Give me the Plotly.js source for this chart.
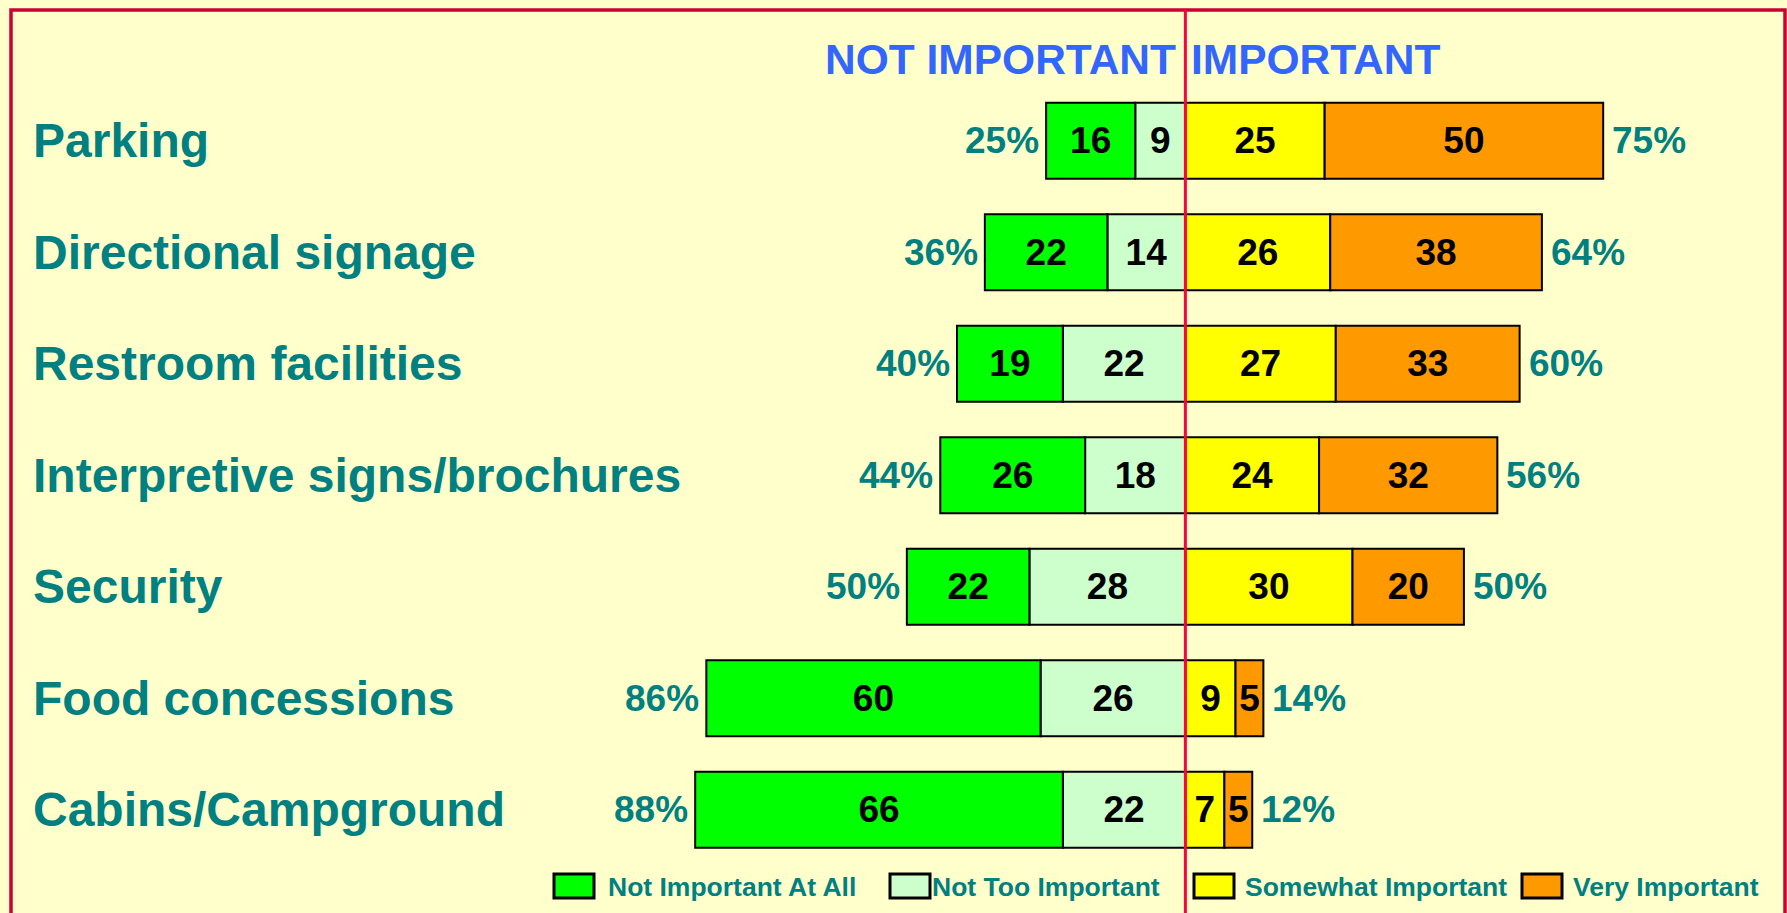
<!DOCTYPE html>
<html>
<head>
<meta charset="utf-8">
<script src="https://cdn.plot.ly/plotly-3.0.1.min.js"></script>
<style>
  html, body { margin: 0; padding: 0; background: #FFFFCC; }
  #chart { width: 1787px; height: 913px; }
</style>
</head>
<body>
<div id="chart"></div>
<script>
// Importance ratings per facility (percent of respondents)
const categories = [
  "Parking",
  "Directional signage",
  "Restroom facilities",
  "Interpretive signs/brochures",
  "Security",
  "Food concessions",
  "Cabins/Campground"
];
const notImportantAtAll = [16, 22, 19, 26, 22, 60, 66];
const notTooImportant   = [9, 14, 22, 18, 28, 26, 22];
const somewhatImportant = [25, 26, 27, 24, 30, 9, 7];
const veryImportant     = [50, 38, 33, 32, 20, 5, 5];
// Reported group totals
const notImportantTotal = [25, 36, 40, 44, 50, 86, 88];
const importantTotal    = [75, 64, 60, 56, 50, 14, 12];

const seriesNames = ["Not Important At All", "Not Too Important", "Somewhat Important", "Very Important"];
const headerLeft = "NOT IMPORTANT";
const headerRight = "IMPORTANT";

const COLORS = {
  notAtAll: "#00FF00",
  notToo: "#CCFFCC",
  somewhat: "#FFFF00",
  very: "#FF9900"
};
const TEAL = "#008080";
const FONT = "Liberation Sans, Arial, Helvetica, sans-serif";
const W = 1787, H = 913;
const px = v => v / W;          // horizontal pixel -> paper
const py = v => 1 - v / H;      // vertical pixel -> paper

function barTrace(values, sign, name, color) {
  return {
    type: "bar",
    orientation: "h",
    name: name,
    y: categories,
    x: values.map(v => sign * v),
    text: values.map(v => "<b>" + v + "</b>"),
    textposition: "inside",
    insidetextanchor: "middle",
    constraintext: "none",
    textfont: { family: FONT, size: 37, color: "#000000" },
    marker: { color: color, line: { color: "#000000", width: 2 } },
    hoverinfo: "skip",
    showlegend: false
  };
}

// Negative side stacks outward from zero: "Not Too" sits next to the centre line
const traces = [
  barTrace(notTooImportant, -1, seriesNames[1], COLORS.notToo),
  barTrace(notImportantAtAll, -1, seriesNames[0], COLORS.notAtAll),
  barTrace(somewhatImportant, 1, seriesNames[2], COLORS.somewhat),
  barTrace(veryImportant, 1, seriesNames[3], COLORS.very)
];

const annotations = [];

// Category labels on the left
categories.forEach(c => {
  annotations.push({
    xref: "paper", yref: "y", x: px(31), y: c,
    xanchor: "left", yanchor: "middle", yshift: 0,
    text: "<b>" + c + "</b>", showarrow: false,
    font: { family: FONT, size: 48, color: TEAL }
  });
});

// Group totals at the ends of each bar
categories.forEach((c, i) => {
  const leftEnd = notImportantAtAll[i] + notTooImportant[i];
  const rightEnd = somewhatImportant[i] + veryImportant[i];
  annotations.push({
    xref: "x", yref: "y", x: -leftEnd, y: c,
    xanchor: "right", yanchor: "middle", xshift: -5,
    text: "<b>" + notImportantTotal[i] + "%</b>", showarrow: false,
    font: { family: FONT, size: 37, color: TEAL }
  });
  annotations.push({
    xref: "x", yref: "y", x: rightEnd, y: c,
    xanchor: "left", yanchor: "middle", xshift: 7,
    text: "<b>" + importantTotal[i] + "%</b>", showarrow: false,
    font: { family: FONT, size: 37, color: TEAL }
  });
});

// Headers either side of the centre line
annotations.push({
  xref: "x", yref: "paper", x: 0, y: py(59),
  xanchor: "right", yanchor: "middle", xshift: -7,
  text: "<b>" + headerLeft + "</b>", showarrow: false,
  font: { family: FONT, size: 42.5, color: "#3366FF" }
});
annotations.push({
  xref: "x", yref: "paper", x: 0, y: py(59),
  xanchor: "left", yanchor: "middle", xshift: 4,
  text: "<b>" + headerRight + "</b>", showarrow: false,
  font: { family: FONT, size: 42.5, color: "#3366FF" }
});

// Legend drawn as boxes + labels along the bottom
const legendItems = [
  { name: seriesNames[0], color: COLORS.notAtAll, box: 554, text: 606 },
  { name: seriesNames[1], color: COLORS.notToo,   box: 890, text: 930 },
  { name: seriesNames[2], color: COLORS.somewhat, box: 1194, text: 1243 },
  { name: seriesNames[3], color: COLORS.very,     box: 1522, text: 1571 }
];
const shapes = [];
legendItems.forEach(it => {
  shapes.push({
    type: "rect", xref: "paper", yref: "paper",
    x0: px(it.box), x1: px(it.box + 40), y0: py(898), y1: py(874),
    fillcolor: it.color, line: { color: "#000000", width: 3 }
  });
  annotations.push({
    xref: "paper", yref: "paper", x: px(it.text), y: py(887),
    xanchor: "left", yanchor: "middle",
    text: "<b>" + it.name + "</b>", showarrow: false,
    font: { family: FONT, size: 26.5, color: TEAL }
  });
});

// Outer frame (open at the bottom edge)
shapes.push({
  type: "path", xref: "paper", yref: "paper",
  path: `M ${px(11)} ${py(925)} L ${px(11)} ${py(10)} L ${px(1785)} ${py(10)} L ${px(1785)} ${py(925)}`,
  line: { color: "#CC0033", width: 3.5 }
});
// Centre divider line
shapes.push({
  type: "line", xref: "x", yref: "paper",
  x0: 0, x1: 0, y0: 0, y1: py(10),
  line: { color: "#FF0040", width: 3 }, layer: "above"
});

const layout = {
  width: W, height: H,
  margin: { l: 0, r: 0, t: 0, b: 0 },
  paper_bgcolor: "#FFFFCC",
  plot_bgcolor: "#FFFFCC",
  barmode: "relative",
  bargap: 0.32,
  showlegend: false,
  xaxis: {
    range: [-212.8, 108.0],
    showgrid: false, zeroline: false, showticklabels: false, ticks: "",
    fixedrange: true
  },
  yaxis: {
    type: "category",
    categoryorder: "array", categoryarray: categories,
    range: [6.926, -1.262],
    showgrid: false, zeroline: false, showticklabels: false, ticks: "",
    fixedrange: true
  },
  annotations: annotations,
  shapes: shapes
};

Plotly.newPlot("chart", traces, layout, { displayModeBar: false, staticPlot: true });
</script>
</body>
</html>
